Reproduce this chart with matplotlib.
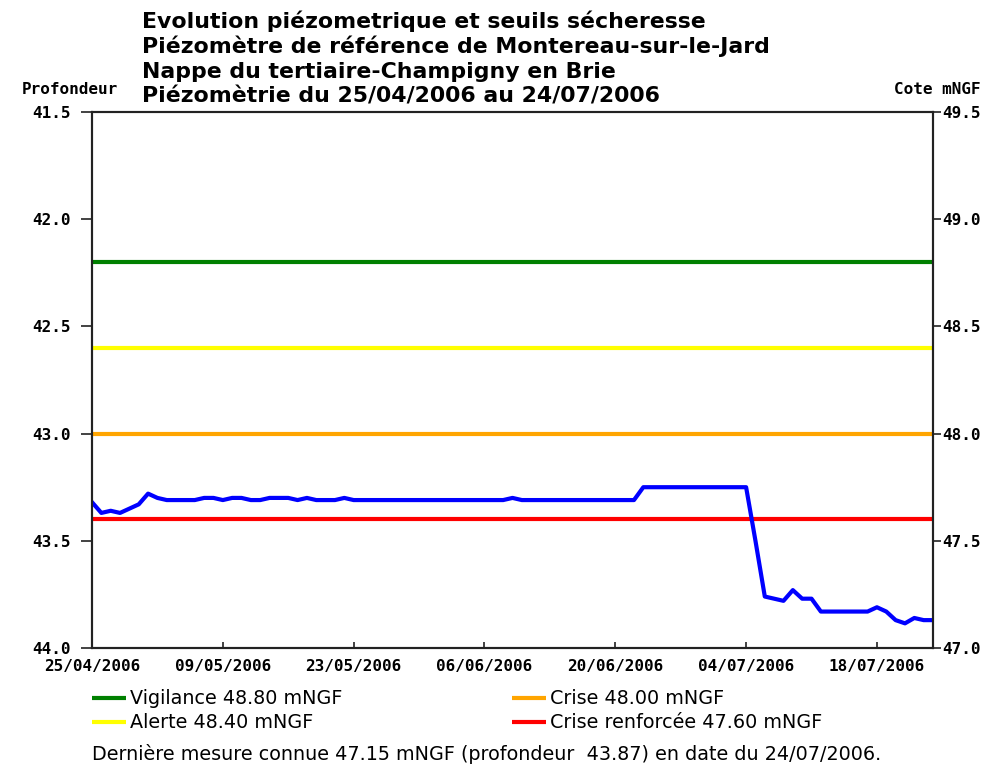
import matplotlib
matplotlib.use("Agg")
import matplotlib.pyplot as plt
from matplotlib.lines import Line2D
from matplotlib.font_manager import FontProperties
import pandas as pd

# ---------------- data ----------------
start_date = "2006-04-25"
end_date = "2006-07-24"
# daily depth (profondeur, m) from 25/04/2006 to 24/07/2006
profondeur = [
    43.32, 43.37, 43.36, 43.37, 43.35, 43.33, 43.28, 43.30, 43.31, 43.31,  # 0-9
    43.31, 43.31, 43.30, 43.30, 43.31, 43.30, 43.30, 43.31, 43.31, 43.30,  # 10-19
    43.30, 43.30, 43.31, 43.30, 43.31, 43.31, 43.31, 43.30, 43.31, 43.31,  # 20-29
    43.31, 43.31, 43.31, 43.31, 43.31, 43.31, 43.31, 43.31, 43.31, 43.31,  # 30-39
    43.31, 43.31, 43.31, 43.31, 43.31, 43.30, 43.31, 43.31, 43.31, 43.31,  # 40-49
    43.31, 43.31, 43.31, 43.31, 43.31, 43.31, 43.31, 43.31, 43.31, 43.25,  # 50-59
    43.25, 43.25, 43.25, 43.25, 43.25, 43.25, 43.25, 43.25, 43.25, 43.25,  # 60-69
    43.25, 43.50, 43.76, 43.77, 43.78, 43.73, 43.77, 43.77, 43.83, 43.83,  # 70-79
    43.83, 43.83, 43.83, 43.83, 43.81, 43.83, 43.87, 43.885, 43.86, 43.87,  # 80-89
    43.87,                                                                 # 90
]
ref_level = 91.0  # cote mNGF = ref_level - profondeur

seuil_noms = ["Vigilance", "Alerte", "Crise", "Crise renforcée"]
seuil_cotes = [48.80, 48.40, 48.00, 47.60]
seuil_couleurs = ["#008000", "#FFFF00", "#FFA500", "#FF0000"]

tick_dates = ["2006-04-25", "2006-05-09", "2006-05-23", "2006-06-06",
              "2006-06-20", "2006-07-04", "2006-07-18"]
tick_labels = ["25/04/2006", "09/05/2006", "23/05/2006", "06/06/2006",
               "20/06/2006", "04/07/2006", "18/07/2006"]
left_ticks = [41.5, 42.0, 42.5, 43.0, 43.5, 44.0]
right_ticks = [49.5, 49.0, 48.5, 48.0, 47.5, 47.0]

titre = ["Evolution piézometrique et seuils sécheresse",
         "Piézomètre de référence de Montereau-sur-le-Jard",
         "Nappe du tertiaire-Champigny en Brie",
         "Piézomètrie du 25/04/2006 au 24/07/2006"]
derniere_cote = 47.15
derniere_prof = 43.87
derniere_date = "24/07/2006"

# ---------------- figure ----------------
W, H = 995, 769
fig = plt.figure(figsize=(W / 100, H / 100), dpi=100)
fig.patch.set_facecolor("white")

L, R, T, B = 92, 933, 112, 648
ax = fig.add_axes([L / W, 1 - B / H, (R - L) / W, (B - T) / H])

dates = pd.date_range(start_date, periods=len(profondeur), freq="D")
axis_color = "#222222"

for nom, cote, col in zip(seuil_noms, seuil_cotes, seuil_couleurs):
    ax.axhline(ref_level - cote, color=col, lw=3.0, solid_capstyle="butt", zorder=2)

ax.plot(dates, profondeur, color="#0000FF", lw=3.0, zorder=3,
        solid_joinstyle="round")

ax.set_xlim(pd.Timestamp(start_date), pd.Timestamp(end_date))
ax.set_ylim(44.0, 41.5)
ax.set_yticks(left_ticks)
ax.set_yticklabels([f"{v:.1f}" for v in left_ticks])
ax.set_xticks([pd.Timestamp(d) for d in tick_dates])
ax.set_xticklabels(tick_labels)

mono = dict(family="DejaVu Sans Mono", weight="bold", size=11.5)
for lab in ax.get_yticklabels() + ax.get_xticklabels():
    lab.set_fontproperties(FontProperties(**mono))

ax.tick_params(axis="y", direction="out", length=8, width=1.2, color=axis_color, pad=7)
ax.tick_params(axis="x", direction="in", length=4, width=1.2, color=axis_color, pad=8)

ax2 = ax.twinx()
ax2.set_ylim(ref_level - 44.0, ref_level - 41.5)
ax2.set_yticks(right_ticks)
ax2.set_yticklabels([f"{v:.1f}" for v in right_ticks])
for lab in ax2.get_yticklabels():
    lab.set_fontproperties(FontProperties(**mono))
ax2.tick_params(axis="y", direction="out", length=6, width=1.2, color=axis_color, pad=1)

for a in (ax, ax2):
    for s in a.spines.values():
        s.set_color(axis_color)
        s.set_linewidth(1.5)

# axis captions
fig.text(70 / W, 1 - 89 / H, "Profondeur", ha="center", va="center", **mono)
fig.text(981 / W, 1 - 89 / H, "Cote mNGF", ha="right", va="center", **mono)

# title
for i, line in enumerate(titre):
    fig.text(142 / W, 1 - (28 + 25 * i) / H, line, ha="left", va="baseline",
             family="DejaVu Sans", weight="bold", size=15.8)

# legend (manual, two columns)
legend_pos = [(92, 698), (92, 722), (512, 698), (512, 722)]
for (x0, y0), k in zip(legend_pos, range(len(seuil_noms))):
    fig.add_artist(Line2D([x0 / W, (x0 + 34) / W], [1 - y0 / H, 1 - y0 / H],
                          color=seuil_couleurs[k], lw=3.0,
                          transform=fig.transFigure, solid_capstyle="butt"))
    fig.text((x0 + 38) / W, 1 - y0 / H,
             f"{seuil_noms[k]} {seuil_cotes[k]:.2f} mNGF",
             ha="left", va="center", family="DejaVu Sans", size=13.8)

fig.text(92 / W, 1 - 754 / H,
         f"Dernière mesure connue {derniere_cote:.2f} mNGF (profondeur  {derniere_prof:.2f}) en date du {derniere_date}.",
         ha="left", va="center", family="DejaVu Sans", size=13.8)

fig.savefig("out.png", dpi=100, facecolor="white")
